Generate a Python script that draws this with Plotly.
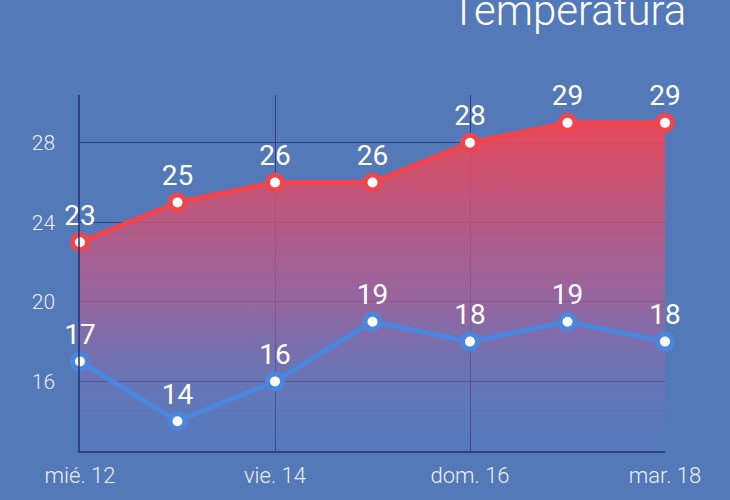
import plotly.graph_objects as go

# daily forecast (day index and label)
days = [12, 13, 14, 15, 16, 17, 18]
day_labels = ["mié. 12", "jue. 13", "vie. 14", "sáb. 15", "dom. 16", "lun. 17", "mar. 18"]
temp_max = [23, 25, 26, 26, 28, 29, 29]
temp_min = [17, 14, 16, 19, 18, 19, 18]
y_ticks = [16, 20, 24, 28]

RED = "#f0444f"
BLUE = "#4a86de"
GRID = "rgba(35,45,120,0.75)"

fig = go.Figure()

fig.add_trace(go.Scatter(
    x=days, y=temp_max, mode="lines+markers+text",
    text=[str(v) for v in temp_max], textposition="top center",
    textfont=dict(size=28, color="white", family="Roboto"),
    line=dict(color=RED, width=5),
    marker=dict(size=15, color="white", line=dict(color=RED, width=5)),
    fill="tozeroy",
    fillgradient=dict(type="vertical", start=12.5, stop=29,
                      colorscale=[[0, "rgba(90,125,205,0.15)"],
                                  [0.45, "rgba(172,95,150,0.72)"],
                                  [1, "rgba(238,70,85,0.95)"]]),
    cliponaxis=False, showlegend=False, hoverinfo="skip",
))

fig.add_trace(go.Scatter(
    x=days, y=temp_min, mode="lines+markers+text",
    text=[str(v) for v in temp_min], textposition="top center",
    textfont=dict(size=28, color="white", family="Roboto"),
    line=dict(color=BLUE, width=5),
    marker=dict(size=15, color="white", line=dict(color=BLUE, width=5)),
    cliponaxis=False, showlegend=False, hoverinfo="skip",
))

fig.add_annotation(text="Temperatura", xref="paper", yref="paper",
                   x=1.04, y=1.238, xanchor="right", yanchor="middle",
                   showarrow=False,
                   font=dict(size=42, color="white", family="Roboto", weight=300))

fig.update_xaxes(range=[12, 18], tickvals=days[::2], ticktext=day_labels[::2],
                 showgrid=True, gridcolor=GRID, gridwidth=1,
                 showline=True, linecolor=GRID, linewidth=1.5,
                 zeroline=False, ticks="", ticklabelstandoff=4,
                 tickfont=dict(size=22, color="rgba(255,255,255,0.9)",
                               family="Roboto", weight=300))
fig.update_yaxes(range=[12.5, 30.4], tickvals=y_ticks,
                 showgrid=True, gridcolor=GRID, gridwidth=1,
                 showline=True, linecolor=GRID, linewidth=1.5,
                 zeroline=False, ticks="outside", ticklen=19,
                 tickcolor="rgba(0,0,0,0)",
                 tickfont=dict(size=21, color="rgba(255,255,255,0.9)",
                               family="Roboto", weight=300))

fig.update_layout(
    width=730, height=500,
    margin=dict(l=80, r=65, t=95, b=46),
    paper_bgcolor="#5479b8", plot_bgcolor="rgba(0,0,0,0)",
)

fig.write_html("out.html", config={"displayModeBar": False},
               post_script="document.body.style.margin='0';")
